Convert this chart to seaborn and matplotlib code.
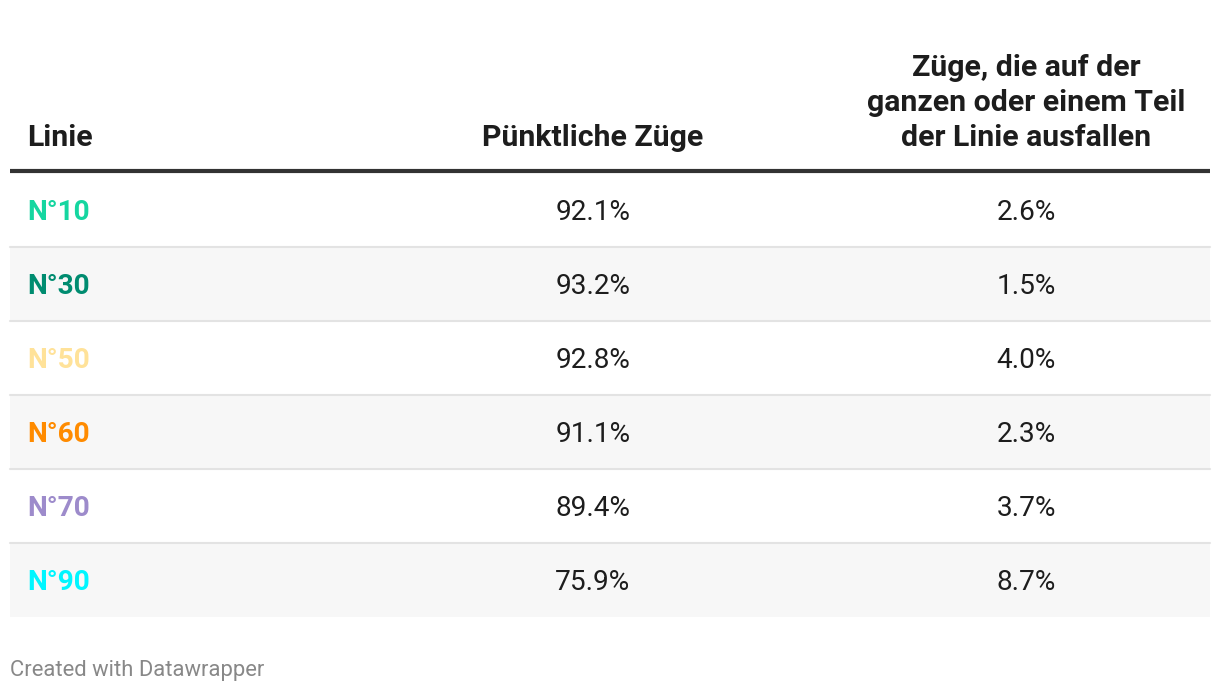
import matplotlib
matplotlib.use("Agg")
import matplotlib.pyplot as plt
import seaborn as sns

sns.set_theme(style="white")
plt.rcParams['font.family'] = ['Roboto', 'DejaVu Sans']

# Data
header_cols = ["Linie", "Pünktliche Züge", "Züge, die auf der\nganzen oder einem Teil\nder Linie ausfallen"]
lines = ["N°10", "N°30", "N°50", "N°60", "N°70", "N°90"]
punctual = [92.1, 93.2, 92.8, 91.1, 89.4, 75.9]
cancelled = [2.6, 1.5, 4.0, 2.3, 3.7, 8.7]
line_colors = ["#15d6a0", "#008c70", "#ffe299", "#ff8b00", "#9d8bcb", "#00f6ff"]
footer = "Created with Datawrapper"

W, H = 1220, 692
fig = plt.figure(figsize=(W / 100, H / 100), dpi=100)
ax = fig.add_axes([0, 0, 1, 1])
ax.set_xlim(0, W)
ax.set_ylim(H, 0)
ax.axis("off")

left, right = 10, 1210
col_x = [27, 593, 1026]
top = 173
row_h = 74
header_line_y = 171

hfs = 21.8
# header
ax.text(col_x[0], 146, header_cols[0], ha="left", va="baseline", fontsize=hfs,
        fontweight="bold", color="#1d1d1d")
ax.text(col_x[1], 146, header_cols[1], ha="center", va="baseline", fontsize=hfs,
        fontweight="bold", color="#1d1d1d")
ax.text(col_x[2], 146, header_cols[2], ha="center", va="baseline", fontsize=hfs,
        fontweight="bold", color="#1d1d1d", linespacing=1.32)
ax.plot([left, right], [header_line_y, header_line_y], color="#333333", lw=3,
        solid_capstyle="butt")

fs = 20.2
for i, (ln, p, c, col) in enumerate(zip(lines, punctual, cancelled, line_colors)):
    y0 = top + i * row_h
    if i % 2 == 1:
        ax.add_patch(plt.Rectangle((left, y0), right - left, row_h, color="#f7f7f7", lw=0))
    if i > 0:
        ax.plot([left, right], [y0, y0], color="#e3e3e3", lw=1.5)
    yc = y0 + row_h / 2
    ax.text(col_x[0], yc, ln, ha="left", va="center_baseline", fontsize=fs,
            fontweight="bold", color=col)
    ax.text(col_x[1], yc, f"{p:.1f}%", ha="center", va="center_baseline", fontsize=fs,
            color="#1d1d1d")
    ax.text(col_x[2], yc, f"{c:.1f}%", ha="center", va="center_baseline", fontsize=fs,
            color="#1d1d1d")

ax.text(10, 668, footer, ha="left", va="center_baseline", fontsize=15.8, color="#888888")

fig.savefig("out.png", dpi=100)
